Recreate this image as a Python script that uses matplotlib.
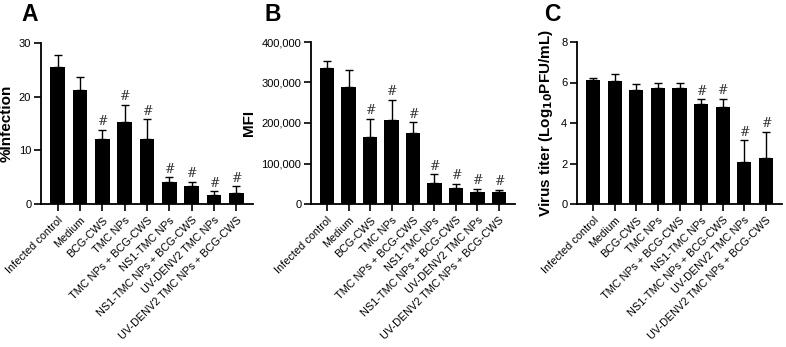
import numpy as np
import matplotlib
matplotlib.use("Agg")
import matplotlib.pyplot as plt

plt.rcParams['font.family'] = ['Liberation Sans', 'DejaVu Sans']

groups = ["Infected control", "Medium", "BCG-CWS", "TMC NPs", "TMC NPs + BCG-CWS",
          "NS1-TMC NPs", "NS1-TMC NPs + BCG-CWS", "UV-DENV2 TMC NPs",
          "UV-DENV2 TMC NPs + BCG-CWS"]

infection = [25.6, 21.3, 12.2, 15.2, 12.1, 4.1, 3.3, 1.6, 2.1]
infection_err = [2.1, 2.4, 1.6, 3.3, 3.7, 0.9, 0.8, 0.8, 1.2]
infection_sig = [False, False, True, True, True, True, True, True, True]

mfi = [336500, 287800, 165000, 207800, 175700, 52800, 38800, 30500, 29700]
mfi_err = [16500, 43000, 45000, 49000, 26300, 20600, 10700, 6500, 4900]
mfi_sig = [False, False, True, True, True, True, True, True, True]

titer = [6.11, 6.07, 5.63, 5.74, 5.71, 4.92, 4.77, 2.09, 2.27]
titer_err = [0.09, 0.37, 0.31, 0.24, 0.29, 0.25, 0.42, 1.05, 1.30]
titer_sig = [False, False, False, False, False, True, True, True, True]

fig = plt.figure(figsize=(7.86, 3.47), dpi=100)
W, H = 786, 347

def make_ax(x0, x1, y0, y1):
    return fig.add_axes([x0 / W, 1 - y1 / H, (x1 - x0) / W, (y1 - y0) / H])

panels = [
    (make_ax(41, 253, 43, 204), infection, infection_err, infection_sig, 30, [0, 10, 20, 30],
     "%Infection", "A", 21),
    (make_ax(311, 515, 42, 204), mfi, mfi_err, mfi_sig, 400000,
     [0, 100000, 200000, 300000, 400000], "MFI", "B", 265),
    (make_ax(577, 782, 42, 204), titer, titer_err, titer_sig, 8, [0, 2, 4, 6, 8],
     "Virus titer (Log$_{\\mathbf{10}}$PFU/mL)", "C", 544),
]

x = np.arange(len(groups))
for ax, vals, errs, sig, ymax, yticks, ylabel, letter, lx in panels:
    ax.bar(x, vals, width=0.66, color="black", zorder=2)
    ax.errorbar(x, vals, yerr=[np.zeros(len(vals)), errs], fmt="none", ecolor="black",
                elinewidth=1.0, capsize=3, capthick=1.0, zorder=1)
    for i in range(len(vals)):
        if sig[i]:
            ax.text(x[i], vals[i] + errs[i] + ymax * 0.01, "#", ha="center", va="bottom",
                    fontsize=9, family="DejaVu Serif", color="#333333")
    ax.set_xlim(-0.75, 8.75)
    ax.set_ylim(0, ymax)
    ax.set_yticks(yticks)
    if ymax == 400000:
        ax.set_yticklabels([f"{v:,}" for v in yticks])
    ax.set_xticks(x)
    ax.set_xticklabels(groups, rotation=45, ha="right", rotation_mode="anchor", fontsize=7.8)
    ax.tick_params(axis="y", labelsize=8, width=1.2, length=5, pad=2)
    ax.tick_params(axis="x", width=1.2, length=5, pad=3)
    for s in ["top", "right"]:
        ax.spines[s].set_visible(False)
    for s in ["left", "bottom"]:
        ax.spines[s].set_linewidth(1.3)
    ax.set_ylabel(ylabel, fontsize=11, fontweight="bold", labelpad=4)
    fig.text(lx / W, 1 - 3 / H, letter, fontsize=16.5, fontweight="bold", va="top", ha="left")

fig.savefig("out.png", dpi=100)
